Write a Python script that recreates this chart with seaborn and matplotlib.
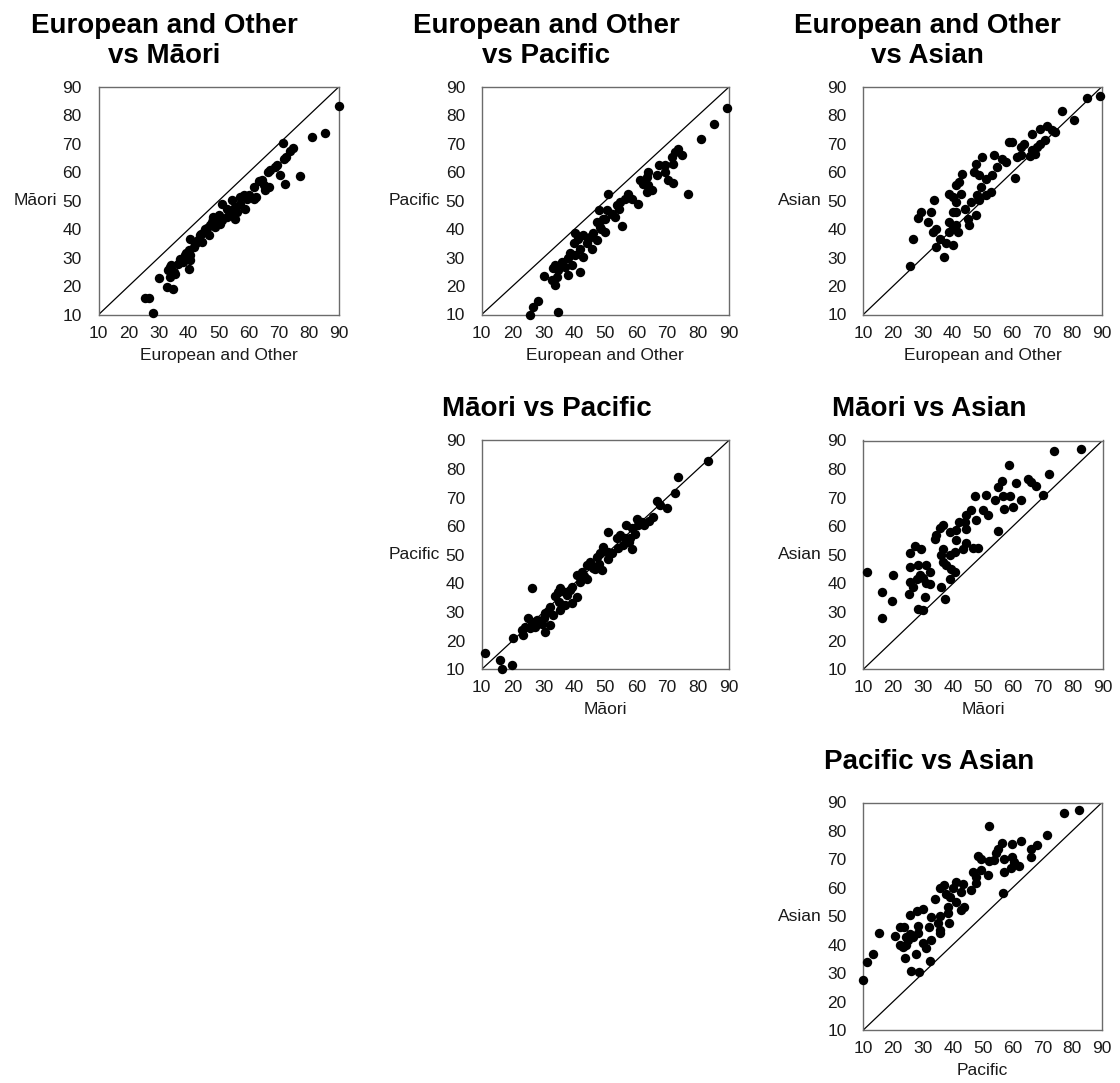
import matplotlib
matplotlib.use("Agg")
import matplotlib.pyplot as plt
import pandas as pd
import seaborn as sns

# Group names used for axis labels and panel titles
GROUPS = ["European and Other", "Māori", "Pacific", "Asian"]
TICKS = [10, 20, 30, 40, 50, 60, 70, 80, 90]

# European and Other (x) vs Māori (y)
eur_maori_x = [90, 85.6, 81.1, 77, 71.3, 74.8, 73.7, 72.6, 71.7, 69.4, 68.9, 70.3, 72.2, 67.2,
               66.3, 64.4, 63.3, 65, 66.7, 61.7, 65.6, 58.3, 61.7, 57.2, 54.4, 51.1, 52.8, 58.9,
               56.1, 54.4, 52.8, 55.6, 50, 51.1, 48.3, 47.8, 47.2, 48.9, 45.6, 45, 43.9, 46.7,
               40.6, 42.8, 41.7, 40, 40.6, 38.9, 37.2, 38.3, 40.6, 40, 33.9, 33.3, 35, 30, 33.9,
               32.8, 34.8, 25.6, 26.7, 28.3, 44, 46.2, 49.2, 50.5, 53.5, 48, 43, 42, 39.2, 36.5,
               55.5, 57, 59.5, 60.2, 62.5, 44.5, 34, 35.5]
eur_maori_y = [83.2, 73.8, 72.6, 58.7, 70.3, 68.5, 67.4, 65.4, 64.8, 62.5, 61.9, 59.2, 56.0, 60.7,
               60.1, 57.5, 56.8, 55.4, 54.8, 54.8, 53.7, 51.9, 50.7, 51.3, 50.2, 49.0, 47.2, 47.2,
               46.1, 44.9, 44.3, 43.7, 44.9, 43.1, 43.7, 42.6, 41.4, 40.8, 40.2, 39.0, 37.9, 37.9,
               36.7, 35.5, 33.8, 32.6, 30.8, 30.8, 29.7, 28.5, 29.1, 26.2, 26.7, 25.6, 25.0, 22.9,
               23.2, 19.7, 19.1, 15.9, 15.9, 10.7, 38.5, 40.5, 42.8, 42.0, 46.5, 44.5, 36.2, 34.8,
               31.6, 27.8, 47.8, 49.0, 50.8, 52.0, 51.2, 35.5, 27.5, 24.2]

# European and Other (x) vs Pacific (y)
eur_pacific_x = [89.5, 85.0, 81.0, 76.7, 73.6, 74.7, 72.6, 71.5, 72.0, 69.3, 67.2, 69.3, 66.6,
                 70.4, 72.0, 63.7, 63.4, 61.2, 62.3, 63.9, 65.0, 63.4, 57.2, 58.5, 60.5, 54.8,
                 53.7, 50.8, 47.8, 50.5, 52.1, 53.2, 55.3, 49.4, 47.2, 48.3, 49.9, 40.2, 42.9,
                 41.3, 45.1, 47.2, 44.0, 39.7, 41.8, 45.6, 42.9, 40.2, 38.0, 35.9, 33.7, 33.2,
                 37.0, 39.1, 41.8, 38.0, 34.3, 30.0, 32.7, 33.7, 28.3, 26.7, 25.6, 34.8, 44.5,
                 46.0, 48.5, 50.0, 52.0, 54.3, 56.3, 38.5, 36.0, 34.8]
eur_pacific_y = [82.5, 77.1, 71.6, 52.2, 68.3, 66.0, 67.1, 65.4, 63.0, 62.5, 62.5, 60.1, 59.2,
                 57.2, 56.4, 60.1, 58.4, 57.2, 56.0, 55.4, 53.7, 53.1, 52.5, 50.7, 49.0, 49.6,
                 48.4, 52.5, 46.6, 46.6, 45.5, 44.3, 41.1, 43.7, 42.6, 40.8, 39.0, 38.5, 37.9,
                 36.7, 37.3, 36.1, 35.0, 35.0, 33.2, 33.2, 30.3, 30.8, 29.7, 28.5, 27.3, 26.2,
                 26.7, 27.3, 25.0, 23.8, 23.2, 23.6, 22.1, 20.3, 14.7, 12.7, 10.0, 10.9, 36.5,
                 38.5, 40.0, 43.5, 45.2, 47.0, 50.5, 31.5, 28.0, 25.5]

# European and Other (x) vs Asian (y)
eur_asian_x = [89.5, 85, 80.9, 76.9, 74.4, 71.7, 73.3, 69.4, 66.7, 71.1, 69.4, 68.3, 66.7, 66.1,
               67.8, 63.9, 62.8, 58.9, 60, 62.8, 61.7, 61.1, 57.8, 56.7, 55, 53.9, 50, 51.1, 53.3,
               47.8, 47.2, 48.9, 43.3, 42.2, 41.1, 49.4, 52.8, 51.1, 48.3, 48.9, 46.1, 38.9, 40,
               42.8, 41.1, 33.9, 44.2, 41.1, 40, 47.8, 45, 29.4, 28.3, 32.8, 31.7, 34.4, 33.3,
               38.9, 40, 41.1, 38.9, 41.7, 45.6, 35.6, 37.8, 40, 34.4, 37.2, 26.7, 25.6]
eur_asian_y = [87.0, 86.1, 78.3, 81.4, 74.2, 76.3, 74.8, 75.3, 73.6, 71.2, 70.1, 68.9, 67.7, 65.9,
               66.6, 70.1, 68.9, 70.7, 70.7, 66.0, 65.4, 58.0, 63.6, 64.8, 61.9, 66.0, 65.4, 57.8,
               58.9, 63.0, 60.1, 58.9, 59.5, 56.6, 55.4, 54.8, 53.1, 51.9, 51.9, 50.2, 49.6, 52.5,
               51.3, 52.5, 49.6, 50.2, 47.2, 46.1, 46.1, 45.1, 43.7, 46.1, 43.9, 46.1, 42.6, 40.2,
               39.0, 42.6, 40.8, 41.4, 39.0, 39.0, 41.4, 36.7, 35.0, 34.4, 33.8, 30.3, 36.7, 27.1]

# Māori (x) vs Pacific (y)
maori_pacific_x = [83.1, 73.6, 72.4, 66.6, 67.7, 69.9, 65.3, 60.2, 61.8, 60.7, 58.5, 56.7, 51.0,
                   54.8, 56.4, 53.7, 55.8, 58.5, 57.5, 49.4, 51.0, 48.3, 47.2, 51.0, 45.1, 44.0,
                   48.8, 46.7, 42.4, 40.7, 44.0, 41.8, 39.1, 35.4, 34.8, 37.0, 33.7, 40.7, 39.1,
                   37.0, 35.4, 32.1, 26.2, 30.5, 33.2, 32.1, 30.5, 27.8, 26.2, 25.1, 27.3, 25.6,
                   24.0, 22.9, 23.5, 29.4, 20.2, 11.1, 15.9, 16.5, 19.7, 37.5, 38.5, 43.0, 46.0,
                   47.8, 52.2, 54.0, 58.0, 59.5, 62.5, 64.0, 30.0, 28.5, 31.5, 35.0]
maori_pacific_y = [82.7, 77.2, 71.6, 68.7, 67.3, 66.4, 63.3, 62.4, 61.5, 60.3, 59.2, 60.3, 58.0,
                   56.9, 55.7, 55.7, 53.4, 52.0, 54.5, 52.8, 51.0, 50.5, 49.3, 48.7, 47.6, 46.4,
                   44.7, 45.2, 44.1, 42.9, 41.5, 40.6, 38.8, 38.3, 37.1, 37.1, 35.7, 35.3, 33.0,
                   32.4, 30.7, 31.9, 38.3, 29.5, 29.0, 25.5, 23.1, 27.2, 26.6, 27.8, 24.9, 24.3,
                   24.9, 23.7, 22.0, 25.7, 20.8, 15.6, 13.3, 10.0, 11.5, 36.0, 37.8, 42.5, 45.5,
                   46.8, 50.5, 52.5, 56.0, 57.2, 60.5, 61.8, 28.0, 26.2, 30.2, 33.5]

# Māori (x) vs Asian (y)
maori_asian_x = [82.8, 73.7, 58.7, 72.2, 65, 66.1, 67.8, 61.1, 56.4, 55, 70, 62.8, 60, 58.9,
                 56.7, 53.9, 57.2, 51.1, 47.2, 55, 50, 51.7, 47.8, 46.1, 44.4, 43.9, 42, 36.7,
                 35.6, 38.9, 41.1, 44.4, 34.4, 33.9, 41.1, 40.6, 44.4, 46.7, 48.3, 43.3, 36.7,
                 27.2, 29.4, 25.6, 36.1, 38.9, 36.7, 37.8, 28.3, 25.6, 30.9, 32.2, 39.4, 40.6,
                 38.9, 20, 11.1, 28.9, 27.8, 25.6, 30, 31.1, 32.2, 26.7, 36.1, 16.1, 25.3, 30.6,
                 19.7, 37.2, 28.3, 30, 16.1]
maori_asian_y = [87.1, 86.2, 81.5, 78.4, 76.4, 75.5, 74.0, 75.2, 75.7, 73.7, 70.8, 69.3, 66.7,
                 70.6, 70.6, 69.1, 65.9, 70.8, 70.6, 58.3, 65.6, 63.8, 62.1, 65.6, 63.8, 61.5,
                 61.5, 60.6, 59.4, 58.0, 58.6, 59.0, 57.1, 55.7, 55.1, 51.0, 54.0, 52.4, 52.4,
                 51.9, 52.2, 53.1, 52.0, 50.5, 49.9, 49.9, 47.6, 46.6, 46.4, 45.8, 46.4, 44.1,
                 45.2, 44.1, 41.5, 43.1, 44.1, 42.9, 41.5, 40.6, 42.0, 40.0, 39.7, 38.8, 38.8,
                 36.9, 36.5, 35.3, 34.0, 34.5, 31.0, 30.7, 27.8]

# Pacific (x) vs Asian (y)
pacific_asian_x = [82.4, 77.2, 52.2, 71.7, 68.3, 66.1, 66.1, 62.8, 59.8, 56.4, 55.3, 54.4, 48.3,
                   49.4, 52.2, 53.9, 57.2, 60, 60.6, 62.2, 59.4, 57.2, 56.7, 46.7, 49.4, 47.8,
                   51.7, 47.8, 41.1, 43.3, 37.2, 35.6, 40, 42.8, 46.1, 37.8, 38.9, 33.9, 41.1,
                   43.9, 42.8, 38.3, 30, 28, 25.6, 32.8, 35.6, 38.3, 35, 38.7, 32, 28.3, 22.2,
                   23.6, 35.6, 35.6, 15.3, 20.6, 25.6, 28.3, 26.7, 24.4, 25, 32.8, 30, 22.2, 23.3,
                   24.4, 31.1, 13.1, 27.6, 23.9, 32.2, 11.3, 25.9, 28.6, 10]
pacific_asian_y = [87.3, 86.3, 81.7, 78.5, 75.0, 73.8, 70.9, 76.4, 75.3, 75.8, 73.8, 72.1, 71.1,
                   70.3, 69.4, 69.7, 70.3, 70.9, 69.1, 67.6, 66.8, 65.6, 58.2, 65.6, 66.2, 63.9,
                   64.5, 61.8, 62.1, 61.5, 60.9, 59.8, 59.8, 58.6, 59.2, 58.0, 56.8, 55.9, 55.1,
                   53.3, 52.2, 53.3, 52.7, 51.9, 50.4, 49.8, 50.0, 51.2, 47.5, 47.5, 46.3, 46.5,
                   46.1, 46.1, 45.1, 44.0, 44.0, 43.1, 43.7, 44.0, 42.8, 42.8, 41.6, 41.6, 40.7,
                   39.9, 39.3, 39.9, 38.7, 36.9, 36.7, 35.4, 34.4, 34.0, 30.8, 30.5, 27.6]

sns.set_theme(style="white")
plt.rcParams["font.family"] = ["Liberation Sans", "DejaVu Sans"]

W, H = 1120, 1083
fig = plt.figure(figsize=(W / 100, H / 100), dpi=100)


def axes_px(left, top, right, bottom):
    """Add an axes given its frame in pixel coordinates (origin top-left)."""
    return fig.add_axes([left / W, 1 - bottom / H, (right - left) / W, (bottom - top) / H])


E, M, P, A = GROUPS
# tpos: horizontal centre and baseline of the last title line, in pixels
panels = [
    dict(x=eur_maori_x, y=eur_maori_y, xl=E, yl=M, title=f"{E}\nvs {M}",
         frame=(98.5, 87, 338.7, 314.7), tpos=(164, 63)),
    dict(x=eur_pacific_x, y=eur_pacific_y, xl=E, yl=P, title=f"{E}\nvs {P}",
         frame=(481.7, 87, 729, 314.5), tpos=(546, 63)),
    dict(x=eur_asian_x, y=eur_asian_y, xl=E, yl=A, title=f"{E}\nvs {A}",
         frame=(863.3, 87, 1101.5, 314.5), tpos=(927, 63)),
    dict(x=maori_pacific_x, y=maori_pacific_y, xl=M, yl=P, title=f"{M} vs {P}",
         frame=(481.7, 440.3, 729, 669.3), tpos=(547, 416)),
    dict(x=maori_asian_x, y=maori_asian_y, xl=M, yl=A, title=f"{M} vs {A}",
         frame=(863.3, 440.5, 1102.5, 669.3), tpos=(929, 416)),
    dict(x=pacific_asian_x, y=pacific_asian_y, xl=P, yl=A, title=f"{P} vs {A}",
         frame=(863.3, 802.5, 1102, 1030), tpos=(929, 769)),
]

for p in panels:
    ax = axes_px(*p["frame"])
    df = pd.DataFrame({p["xl"]: p["x"], p["yl"]: p["y"]})
    # parity line
    ax.plot([TICKS[0], TICKS[-1]], [TICKS[0], TICKS[-1]], color="black", lw=0.9, zorder=2)
    sns.scatterplot(data=df, x=p["xl"], y=p["yl"], ax=ax, color="black", s=46,
                    linewidth=0, clip_on=False, zorder=3)
    ax.set_xlim(TICKS[0], TICKS[-1])
    ax.set_ylim(TICKS[0], TICKS[-1])
    ax.set_xticks(TICKS)
    ax.set_yticks(TICKS)
    ax.tick_params(axis="both", length=0, labelsize=12.5, labelcolor="#1a1a1a")
    ax.tick_params(axis="y", pad=12)
    ax.tick_params(axis="x", pad=8)
    ax.set_xlabel(p["xl"], fontsize=12.5, color="#1a1a1a", labelpad=5)
    ax.set_ylabel(p["yl"], fontsize=12.5, color="#1a1a1a", rotation=0,
                  ha="right", va="center", labelpad=4)
    for sp in ax.spines.values():
        sp.set_color("#6b6b6b")
        sp.set_linewidth(1.0)
    tx, ty = p["tpos"]
    fig.text(tx / W, 1 - ty / H, p["title"], ha="center", va="baseline",
             fontsize=20, fontweight="bold", color="black", linespacing=1.2)

fig.savefig("out.png", dpi=100, facecolor="white")
